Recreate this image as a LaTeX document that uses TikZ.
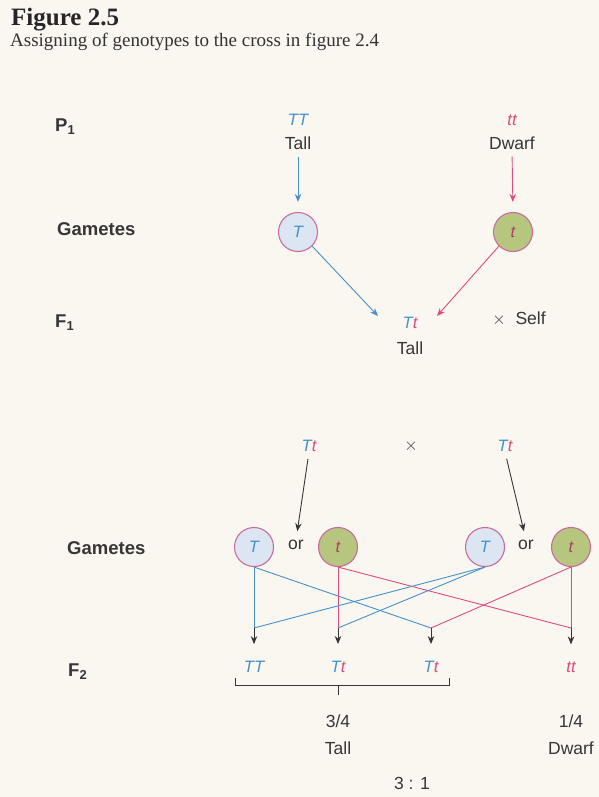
\documentclass[tikz,border=0pt]{standalone}
\usepackage{fontspec}
\setmainfont{Liberation Serif}
\setsansfont{Liberation Sans}
\usetikzlibrary{arrows.meta}
\definecolor{paper}{HTML}{FAF7F1}
\definecolor{ink}{HTML}{363636}
\definecolor{tblue}{HTML}{4690CC}
\definecolor{tpink}{HTML}{DD4C7E}
\definecolor{ring}{HTML}{CC6A9E}
\definecolor{bluefill}{HTML}{DCE5F2}
\definecolor{greenfill}{HTML}{B6C67F}
\newcommand{\Tt}{{\color{tblue}T}{\color{tpink}t}}
\begin{document}
\begin{tikzpicture}[x=1pt,y=-1pt,
  every node/.style={inner sep=0pt,text=ink},
  rowlabel/.style={anchor=west,font=\sffamily\bfseries\fontsize{18.5}{20}\selectfont},
  plain/.style={font=\sffamily\fontsize{17.5}{19}\selectfont},
  geno/.style={font=\sffamily\itshape\fontsize{16.5}{18}\selectfont},
  gamete/.style={circle,draw=ring,line width=1.1pt,minimum size=39pt,
    font=\sffamily\itshape\fontsize{16.5}{18}\selectfont},
  bluegam/.style={gamete,fill=bluefill,text=tblue},
  greengam/.style={gamete,fill=greenfill,text=tpink!80!black},
  tip/.style={-{Stealth[length=8pt,width=6.5pt]}},
  bline/.style={draw=tblue,line width=0.9pt},
  pline/.style={draw=tpink,line width=0.9pt},
  kline/.style={draw=ink,line width=0.9pt}]
  \useasboundingbox (0,0) rectangle (599,797);
  \fill[paper] (0,0) rectangle (599,797);

  % caption
  \node[anchor=west,font=\rmfamily\bfseries\fontsize{25}{27}\selectfont,text=black!85] (fig) at (11,20) {Figure 2.5};
  \node[anchor=west,font=\rmfamily\fontsize{19}{21}\selectfont,text=black!80] (cap) at (10,42) {Assigning of genotypes to the cross in figure 2.4};

  % row labels
  \node[rowlabel] (lp1) at (55,127) {P\textsubscript{1}};
  \node[rowlabel] (lg1) at (57,229) {Gametes};
  \node[rowlabel] (lf1) at (55,323) {F\textsubscript{1}};
  \node[rowlabel] (lg2) at (67,548) {Gametes};
  \node[rowlabel] (lf2) at (68,672) {F\textsubscript{2}};

  % parental generation
  \node[geno,text=tblue] (pTT) at (298,120) {TT};
  \node[plain] (ptall) at (298,143) {Tall};
  \node[geno,text=tpink] (ptt) at (512,120) {tt};
  \node[plain] (pdwarf) at (512,143) {Dwarf};

  \node[bluegam] (gT) at (298,232) {T};
  \node[greengam] (gt) at (513,232) {t};

  \draw[bline,tip,shorten <=7pt,shorten >=10pt] (ptall.south) -- (gT.north);
  \draw[pline,tip,shorten <=7pt,shorten >=10pt] (pdwarf.south) -- (gt.north);

  % F1
  \node[geno] (f1g) at (410,323) {\Tt};
  \node[plain] (f1tall) at (410,348) {Tall};
  \node[plain] (self) at (519,319) {$\times$\; Self};
  \coordinate (f1inL) at (378,316);
  \coordinate (f1inR) at (437,316);
  \draw[bline,tip] (gT.-45) -- (f1inL);
  \draw[pline,tip] (gt.-135) -- (f1inR);

  % second cross
  \node[geno] (x1) at (309,446) {\Tt};
  \node[plain] (xx) at (411,446) {$\times$};
  \node[geno] (x2) at (505,446) {\Tt};

  \node[bluegam] (c1) at (254,547) {T};
  \node[plain] (or1) at (296,545) {or};
  \node[greengam] (c2) at (338,547) {t};
  \node[bluegam] (c3) at (485,547) {T};
  \node[plain] (or2) at (526,545) {or};
  \node[greengam] (c4) at (571,547) {t};

  \draw[kline,tip,shorten <=7pt,shorten >=9pt] (x1.south) -- (or1.north);
  \draw[kline,tip,shorten <=7pt,shorten >=9pt] (x2.south) -- (or2.north);

  % junctions above the F2 genotypes
  \coordinate (j1) at (254,628);
  \coordinate (j2) at (338,628);
  \coordinate (j3) at (431,628);
  \coordinate (j4) at (571,628);

  \draw[bline] (c1.south) -- (j1);
  \draw[bline] (c1.south) -- (j3);
  \draw[pline] (c2.south) -- (j2);
  \draw[pline] (c2.south) -- (j4);
  \draw[bline] (c3.south) -- (j1);
  \draw[bline] (c3.south) -- (j2);
  \draw[pline] (c4.south) -- (j3);
  \draw[pline] (c4.south) -- (j4);

  % F2 genotypes
  \node[geno,text=tblue] (f2a) at (254,667) {TT};
  \node[geno] (f2b) at (338,667) {\Tt};
  \node[geno] (f2c) at (431,667) {\Tt};
  \node[geno,text=tpink] (f2d) at (571,667) {tt};

  \foreach \j/\f in {j1/f2a,j2/f2b,j3/f2c,j4/f2d}
    \draw[kline,tip,shorten >=17pt] (\j) -- (\f.north |- \j) -- (\f.north);

  % bracket grouping the tall plants
  \coordinate (bl) at (235,678);
  \coordinate (br) at (449,678);
  \coordinate (bm) at (338,685);
  \draw[kline,line width=0.8pt] (bl) -- (bl |- bm) -- (br |- bm) -- (br);
  \draw[kline,line width=0.8pt] (bm) -- ++(0,10);

  \node[plain] (r34) at (338,721) {3/4};
  \node[plain] (rtall) at (338,748) {Tall};
  \node[plain] (r14) at (571,721) {1/4};
  \node[plain] (rdwarf) at (571,748) {Dwarf};
  \node[plain] (ratio) at (412,783) {3 : 1};
\end{tikzpicture}
\end{document}
